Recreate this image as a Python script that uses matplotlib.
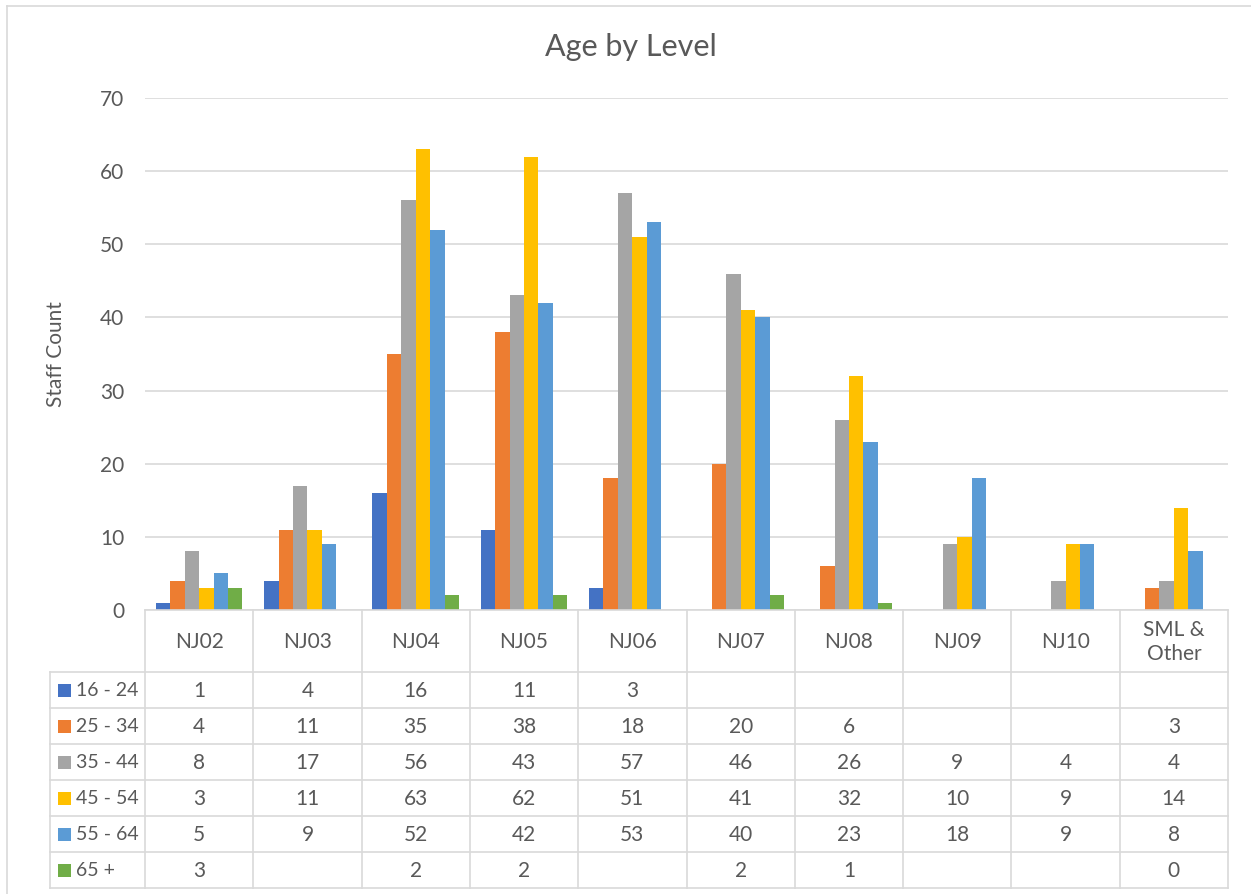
import matplotlib
matplotlib.use("Agg")
import matplotlib.pyplot as plt
import numpy as np

plt.rcParams['font.family'] = ['Lato', 'DejaVu Sans']

# ---- data -------------------------------------------------------------
levels = ["NJ02", "NJ03", "NJ04", "NJ05", "NJ06", "NJ07", "NJ08", "NJ09", "NJ10", "SML &\nOther"]
age_bands = ["16 - 24", "25 - 34", "35 - 44", "45 - 54", "55 - 64", "65 +"]

age_16_24 = [1, 4, 16, 11, 3, None, None, None, None, None]
age_25_34 = [4, 11, 35, 38, 18, 20, 6, None, None, 3]
age_35_44 = [8, 17, 56, 43, 57, 46, 26, 9, 4, 4]
age_45_54 = [3, 11, 63, 62, 51, 41, 32, 10, 9, 14]
age_55_64 = [5, 9, 52, 42, 53, 40, 23, 18, 9, 8]
age_65_up = [3, None, 2, 2, None, 2, 1, None, None, 0]

series = [age_16_24, age_25_34, age_35_44, age_45_54, age_55_64, age_65_up]
colors = ["#4472C4", "#ED7D31", "#A5A5A5", "#FFC000", "#5B9BD5", "#70AD47"]

y_ticks = [0, 10, 20, 30, 40, 50, 60, 70]

# ---- styling ----------------------------------------------------------
TXT = "#595959"
GRID = "#D9D9D9"
FS = 15
W, H = 1251, 894

fig = plt.figure(figsize=(W / 100, H / 100), dpi=100)
fig.patch.set_facecolor("white")


def fx(px):
    return px / W


def fy(py):
    return 1 - py / H


# chart frame (left and top edges)
fig.add_artist(plt.Line2D([fx(7), fx(7)], [0, fy(6)], color=GRID, lw=1.2, transform=fig.transFigure))
fig.add_artist(plt.Line2D([fx(7), 1], [fy(6), fy(6)], color=GRID, lw=1.2, transform=fig.transFigure))

# ---- bar area ---------------------------------------------------------
plot_l, plot_r, plot_t, plot_b = 145, 1228, 98, 610
ax = fig.add_axes([fx(plot_l), fy(plot_b), fx(plot_r - plot_l), (plot_b - plot_t) / H])

n_cat = len(levels)
n_ser = len(series)
x = np.arange(n_cat)
bar_w = 0.8 / n_ser
for i, (vals, col) in enumerate(zip(series, colors)):
    heights = [np.nan if v is None else v for v in vals]
    offs = (i - (n_ser - 1) / 2) * bar_w
    ax.bar(x + offs, heights, width=bar_w, color=col, zorder=3)

ax.set_xlim(-0.5, n_cat - 0.5)
ax.set_ylim(0, 70)
ax.set_yticks(y_ticks)
ax.set_xticks([])
ax.yaxis.grid(True, color=GRID, lw=1.2, zorder=0)
ax.tick_params(axis="y", length=0, pad=15, labelsize=FS, labelcolor=TXT)
for s in ["top", "right", "left"]:
    ax.spines[s].set_visible(False)
ax.spines["bottom"].set_color(GRID)
ax.spines["bottom"].set_linewidth(1.2)
ax.spines["bottom"].set_zorder(4)

fig.text(fx(56), fy(354), "Staff Count", rotation=90, ha="center", va="center",
         fontsize=FS, color=TXT)
fig.text(fx(631), fy(47), "Age by Level", ha="center", va="center",
         fontsize=22, color=TXT)

# ---- data table -------------------------------------------------------
tab = fig.add_axes([fx(plot_l), fy(888), fx(plot_r - plot_l), 278 / H])
tab.set_xlim(-0.5, n_cat - 0.5)
tab.set_ylim(278, 0)
tab.axis("off")

header_h = 62
row_h = 36
row_tops = [header_h + k * row_h for k in range(n_ser + 1)]
px_per_cat = (plot_r - plot_l) / n_cat
label_left = -0.5 - (plot_l - 50) / px_per_cat

line_kw = dict(color=GRID, lw=1.2, clip_on=False)
# horizontal rules
for yv in row_tops:
    tab.plot([label_left, n_cat - 0.5], [yv, yv], **line_kw)
# vertical rules
for k in range(n_cat + 1):
    tab.plot([k - 0.5, k - 0.5], [0, row_tops[-1]], **line_kw)
tab.plot([label_left, label_left], [header_h, row_tops[-1]], **line_kw)

# column headers
for k, name in enumerate(levels):
    tab.text(k, header_h / 2 + 1, name, ha="center", va="center", fontsize=FS,
             color=TXT, linespacing=1.2)

# row labels with colour keys and values
for r, (band, vals, col) in enumerate(zip(age_bands, series, colors)):
    yc = header_h + r * row_h + row_h / 2
    key_x = label_left + 8 / px_per_cat
    tab.add_patch(plt.Rectangle((key_x, yc - 6.5), 13 / px_per_cat, 13,
                                facecolor=col, edgecolor="none", clip_on=False))
    tab.text(label_left + 26 / px_per_cat, yc + 1, band, ha="left", va="center",
             fontsize=14, color=TXT)
    for k, v in enumerate(vals):
        if v is not None:
            tab.text(k, yc + 1, str(v), ha="center", va="center", fontsize=FS, color=TXT)

fig.savefig("out.png", dpi=100, facecolor="white")
